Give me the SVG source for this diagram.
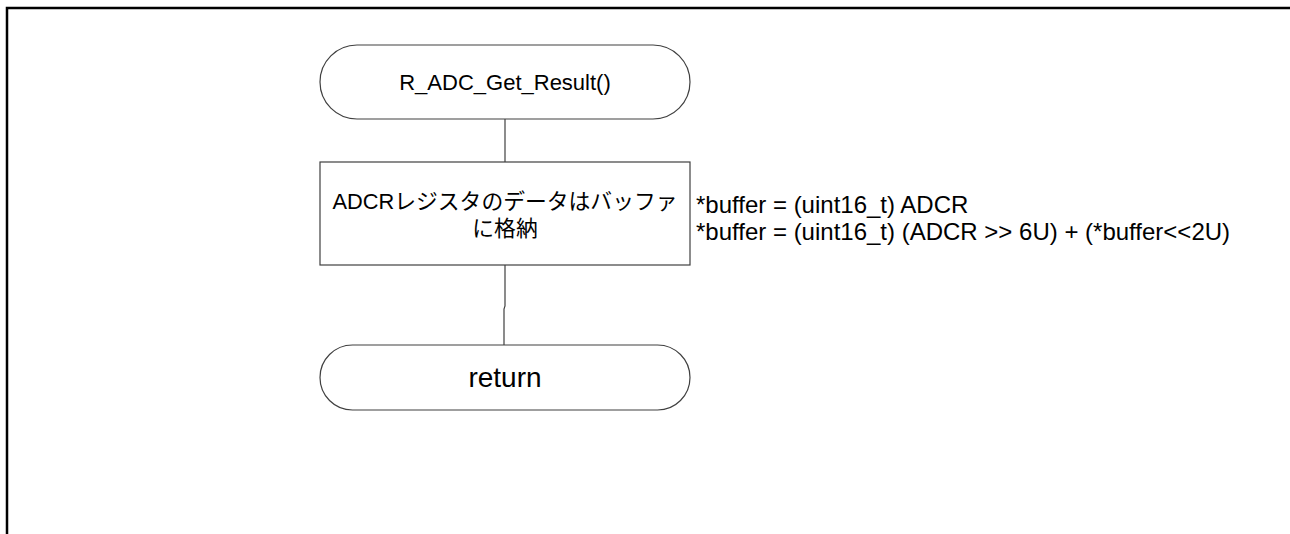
<svg xmlns="http://www.w3.org/2000/svg" width="1290" height="534" viewBox="0 0 1290 534">
<style>
.shape{fill:#ffffff;stroke:#404040;stroke-width:1.2}
.conn{fill:none;stroke:#404040;stroke-width:1.2}
.t{font-family:"Liberation Sans",Arial,"Noto Sans CJK JP",sans-serif;fill:#000000}
</style>
<rect width="1290" height="534" fill="#ffffff"/>
<g id="frame">
<path d="M7,534 V8 H1290" fill="none" stroke="#000000" stroke-width="2.5"/>
</g>
<g id="connectors">
<line class="conn" x1="505" y1="119" x2="505" y2="162"/>
<path class="conn" d="M505,265 V306 L504,309 V345"/>
</g>
<g id="start">
<rect class="shape" x="320" y="45" width="370" height="74" rx="37" ry="37"/>
<text class="t" x="505" y="90" font-size="22" text-anchor="middle">R_ADC_Get_Result()</text>
</g>
<g id="process">
<rect class="shape" x="320" y="162" width="370" height="103"/>
<text class="t" font-size="21.8" text-anchor="middle"><tspan x="505" y="209">ADCRレジスタのデータはバッファ</tspan><tspan x="505" y="236">に格納</tspan></text>
</g>
<g id="annotation">
<text class="t" font-size="24"><tspan x="696" y="213">*buffer = (uint16_t) ADCR</tspan><tspan x="696" y="240">*buffer = (uint16_t) (ADCR &gt;&gt; 6U) + (*buffer&lt;&lt;2U)</tspan></text>
</g>
<g id="end">
<rect class="shape" x="320" y="345" width="370" height="65" rx="32.5" ry="32.5"/>
<text class="t" x="505" y="387" font-size="28" text-anchor="middle">return</text>
</g>
</svg>
